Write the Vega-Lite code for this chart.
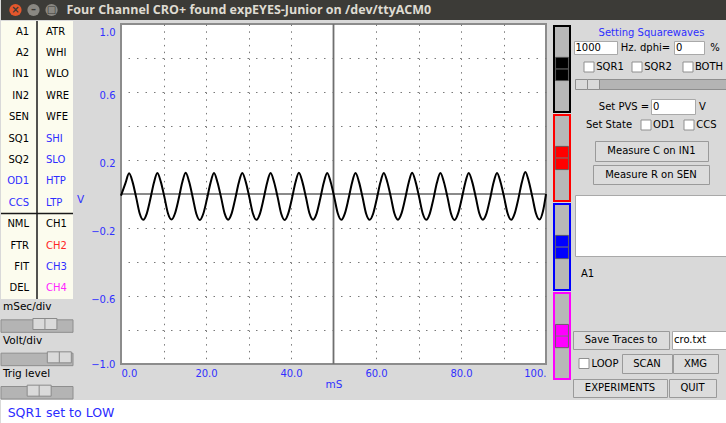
{
  "$schema": "https://vega.github.io/schema/vega-lite/v6.json",
  "padding": 0,
  "background": "#d9d9d9",
  "config": {
    "view": {"stroke": null},
    "concat": {"spacing": 0},
    "text": {"font": "DejaVu Sans", "fontSize": 10, "color": "#000000"},
    "axis": {"labelFont": "DejaVu Sans", "titleFont": "DejaVu Sans"}
  },
  "spacing": 0,
  "vconcat": [
    {
      "spacing": 0, "bounds": "flush",
      "hconcat": [
        {
          "width": 65, "height": 20,
          "view": {"fill": "#3c3b37", "stroke": null},
          "data": {"values": [{"button": "close", "glyph": "×"}, {"button": "minimize", "glyph": "–"}, {"button": "maximize", "glyph": "□"}]},
          "encoding": {"x": {"field": "button", "type": "nominal", "scale": {"type": "point", "domain": ["close", "minimize", "maximize"], "padding": 0.8}, "axis": null}},
          "layer": [
            {"transform": [{"filter": "datum.button === 'close'"}], "mark": {"type": "point", "filled": true, "size": 150, "opacity": 1, "fill": "#e5572c", "strokeWidth": 0}},
            {"transform": [{"filter": "datum.button !== 'close'"}], "mark": {"type": "point", "filled": true, "size": 150, "opacity": 1, "fill": "#8a8882", "strokeWidth": 0}},
            {"mark": {"type": "text", "fontSize": 10, "fontWeight": "bold", "color": "#3c3b37"}, "encoding": {"text": {"field": "glyph"}}}
          ]
        },
        {
          "width": 661, "height": 20,
          "view": {"fill": "#3c3b37", "stroke": null},
          "data": {"values": [{"title": "Four Channel CRO+ found expEYES-Junior on /dev/ttyACM0"}]},
          "mark": {"type": "text", "font": "Open Sans", "fontSize": 12.5, "fontWeight": "bold", "color": "#dfdbd2", "align": "left", "dx": -330},
          "encoding": {"text": {"field": "title"}}
        }
      ]
    },
    {
      "spacing": 0,
      "hconcat": [
        {
          "spacing": 0, "bounds": "flush",
          "vconcat": [
            {
              "width": 72, "height": 278,
              "view": {"fill": "#fcfcee", "stroke": null},
              "data": {"values": [
                {"row": 1, "col": "L", "label": "A1", "kind": "plain"},
                {"row": 2, "col": "L", "label": "A2", "kind": "plain"},
                {"row": 3, "col": "L", "label": "IN1", "kind": "plain"},
                {"row": 4, "col": "L", "label": "IN2", "kind": "plain"},
                {"row": 5, "col": "L", "label": "SEN", "kind": "plain"},
                {"row": 6, "col": "L", "label": "SQ1", "kind": "plain"},
                {"row": 7, "col": "L", "label": "SQ2", "kind": "plain"},
                {"row": 8, "col": "L", "label": "OD1", "kind": "out"},
                {"row": 9, "col": "L", "label": "CCS", "kind": "out"},
                {"row": 10, "col": "L", "label": "NML", "kind": "plain"},
                {"row": 11, "col": "L", "label": "FTR", "kind": "plain"},
                {"row": 12, "col": "L", "label": "FIT", "kind": "plain"},
                {"row": 13, "col": "L", "label": "DEL", "kind": "plain"},
                {"row": 1, "col": "R", "label": "ATR", "kind": "plain"},
                {"row": 2, "col": "R", "label": "WHI", "kind": "plain"},
                {"row": 3, "col": "R", "label": "WLO", "kind": "plain"},
                {"row": 4, "col": "R", "label": "WRE", "kind": "plain"},
                {"row": 5, "col": "R", "label": "WFE", "kind": "plain"},
                {"row": 6, "col": "R", "label": "SHI", "kind": "out"},
                {"row": 7, "col": "R", "label": "SLO", "kind": "out"},
                {"row": 8, "col": "R", "label": "HTP", "kind": "out"},
                {"row": 9, "col": "R", "label": "LTP", "kind": "out"},
                {"row": 10, "col": "R", "label": "CH1", "kind": "plain"},
                {"row": 11, "col": "R", "label": "CH2", "kind": "ch2"},
                {"row": 12, "col": "R", "label": "CH3", "kind": "ch3"},
                {"row": 13, "col": "R", "label": "CH4", "kind": "ch4"}
              ]},
              "layer": [
                {
                  "transform": [{"filter": "datum.col === 'L'"}],
                  "mark": {"type": "text", "align": "right"},
                  "encoding": {
                    "x": {"field": "col", "type": "nominal", "bandPosition": 0.78, "scale": {"domain": ["L", "R"], "paddingInner": 0, "paddingOuter": 0}, "axis": null},
                    "y": {"field": "row", "type": "ordinal", "scale": {"domain": [1,2,3,4,5,6,7,8,9,10,11,12,13], "paddingInner": 0, "paddingOuter": 0}, "axis": null},
                    "text": {"field": "label"},
                    "color": {"field": "kind", "type": "nominal", "scale": {"domain": ["plain", "out", "ch2", "ch3", "ch4"], "range": ["#000000", "#2e2eff", "#ff2626", "#2e2eff", "#ff26ff"]}, "legend": null}
                  }
                },
                {
                  "transform": [{"filter": "datum.col === 'R'"}],
                  "mark": {"type": "text", "align": "left"},
                  "encoding": {
                    "x": {"field": "col", "type": "nominal", "bandPosition": 0.25, "scale": {"domain": ["L", "R"], "paddingInner": 0, "paddingOuter": 0}, "axis": null},
                    "y": {"field": "row", "type": "ordinal", "scale": {"domain": [1,2,3,4,5,6,7,8,9,10,11,12,13], "paddingInner": 0, "paddingOuter": 0}, "axis": null},
                    "text": {"field": "label"},
                    "color": {"field": "kind", "type": "nominal", "scale": {"domain": ["plain", "out", "ch2", "ch3", "ch4"], "range": ["#000000", "#2e2eff", "#ff2626", "#2e2eff", "#ff26ff"]}, "legend": null}
                  }
                },
                {
                  "data": {"values": [{}]},
                  "mark": {"type": "rule", "color": "#1a1a1a", "strokeWidth": 1.5},
                  "encoding": {"x": {"datum": "R", "type": "nominal", "bandPosition": 0}}
                },
                {
                  "data": {"values": [{}]},
                  "mark": {"type": "rule", "color": "#1a1a1a", "strokeWidth": 1.5},
                  "encoding": {"y": {"datum": 10, "type": "ordinal", "bandPosition": 0}}
                }
              ]
            },
            {
              "width": 72, "height": 100,
              "data": {"values": [
                {"slider": "mSec/div", "part": "label"},
                {"slider": "mSec/div", "part": "trough", "value": 0.61},
                {"slider": "Volt/div", "part": "label"},
                {"slider": "Volt/div", "part": "trough", "value": 0.81},
                {"slider": "Trig level", "part": "label"},
                {"slider": "Trig level", "part": "trough", "value": 0.53}
              ]},
              "encoding": {
                "y": {"field": "slider", "type": "nominal", "scale": {"domain": ["mSec/div", "Volt/div", "Trig level"], "paddingInner": 0, "paddingOuter": 0}, "axis": null},
                "yOffset": {"field": "part", "type": "nominal", "scale": {"domain": ["label", "trough"], "paddingInner": 0, "paddingOuter": 0}}
              },
              "layer": [
                {
                  "transform": [{"filter": "datum.part === 'label'"}],
                  "mark": {"type": "text", "align": "left", "dx": 2, "fontSize": 10.5},
                  "encoding": {
                    "x": {"datum": 0, "type": "quantitative", "scale": {"domain": [0, 1]}, "axis": null},
                    "text": {"field": "slider"}
                  }
                },
                {
                  "transform": [{"filter": "datum.part === 'trough'"}],
                  "mark": {"type": "bar", "color": "#b4b4b4", "stroke": "#8e8e8e", "strokeWidth": 1, "height": {"band": 0.75}}
                },
                {
                  "transform": [{"filter": "datum.part === 'trough'"}],
                  "mark": {"type": "tick", "thickness": 24, "size": 11, "color": "#dadada", "stroke": "#8a8a8a", "strokeWidth": 1, "opacity": 1},
                  "encoding": {"x": {"field": "value", "type": "quantitative", "scale": {"domain": [0, 1]}, "axis": null}}
                },
                {
                  "transform": [{"filter": "datum.part === 'trough'"}],
                  "mark": {"type": "tick", "thickness": 1, "size": 11, "color": "#8a8a8a", "opacity": 1},
                  "encoding": {"x": {"field": "value", "type": "quantitative", "scale": {"domain": [0, 1]}, "axis": null}}
                }
              ]
            }
          ]
        },
        {"width": 1, "height": 378, "data": {"values": [{}]}, "mark": {"type": "point", "size": 0, "strokeWidth": 0, "opacity": 0}},
        {
          "spacing": 0, "bounds": "flush",
          "vconcat": [
            {"width": 425, "height": 3, "data": {"values": [{}]}, "mark": {"type": "point", "size": 0, "strokeWidth": 0, "opacity": 0}},
            {
              "width": 425, "height": 340,
              "view": {"fill": "#ffffff", "stroke": "#8c8c8c", "strokeWidth": 2},
              "resolve": {"axis": {"x": "independent", "y": "independent"}},
              "layer": [
                {
                  "data": {"values": [{}]},
                  "mark": {"type": "rule", "color": "#6f6f6f", "strokeWidth": 1.8},
                  "encoding": {"x": {"datum": 50, "type": "quantitative", "scale": {"domain": [0, 100], "nice": false, "zero": false},
                    "axis": {"orient": "top", "values": [10, 20, 30, 40, 60, 70, 80, 90], "grid": true, "gridDash": [1.5, 5.3], "gridColor": "#7a7a7a", "gridWidth": 1, "labels": false, "ticks": false, "domain": false, "title": null}}}
                },
                {
                  "data": {"values": [{}]},
                  "mark": {"type": "rule", "color": "#8a8a8a", "strokeWidth": 1.8},
                  "encoding": {"y": {"datum": 0, "type": "quantitative", "scale": {"domain": [-1, 1], "nice": false, "zero": false},
                    "axis": {"orient": "right", "values": [-0.8, -0.6, -0.4, -0.2, 0.2, 0.4, 0.6, 0.8], "grid": true, "gridDash": [1.5, 7], "gridColor": "#7a7a7a", "gridWidth": 1, "labels": false, "ticks": false, "domain": false, "title": null}}}
                },
                {
                  "data": {"values": [
                    {"t": 0, "v": -0.01}, {"t": 1.07, "v": 0.065}, {"t": 1.9, "v": 0.122}, {"t": 2.73, "v": 0.07},
                    {"t": 3.57, "v": -0.02}, {"t": 4.4, "v": -0.115}, {"t": 5.23, "v": -0.152}, {"t": 6.06, "v": -0.115},
                    {"t": 6.9, "v": -0.03}, {"t": 7.73, "v": 0.065}, {"t": 8.56, "v": 0.124}, {"t": 9.39, "v": 0.07},
                    {"t": 10.23, "v": -0.02}, {"t": 11.06, "v": -0.115}, {"t": 11.89, "v": -0.15}, {"t": 12.72, "v": -0.113},
                    {"t": 13.56, "v": -0.03}, {"t": 14.39, "v": 0.066}, {"t": 15.22, "v": 0.125}, {"t": 16.05, "v": 0.07},
                    {"t": 16.89, "v": -0.022}, {"t": 17.72, "v": -0.116}, {"t": 18.55, "v": -0.153}, {"t": 19.38, "v": -0.115},
                    {"t": 20.22, "v": -0.03}, {"t": 21.05, "v": 0.064}, {"t": 21.88, "v": 0.123}, {"t": 22.71, "v": 0.068},
                    {"t": 23.55, "v": -0.02}, {"t": 24.38, "v": -0.114}, {"t": 25.21, "v": -0.151}, {"t": 26.04, "v": -0.114},
                    {"t": 26.88, "v": -0.028}, {"t": 27.71, "v": 0.066}, {"t": 28.54, "v": 0.124}, {"t": 29.37, "v": 0.07},
                    {"t": 30.21, "v": -0.021}, {"t": 31.04, "v": -0.115}, {"t": 31.87, "v": -0.152}, {"t": 32.7, "v": -0.115},
                    {"t": 33.54, "v": -0.03}, {"t": 34.37, "v": 0.065}, {"t": 35.2, "v": 0.123}, {"t": 36.03, "v": 0.069},
                    {"t": 36.87, "v": -0.02}, {"t": 37.7, "v": -0.116}, {"t": 38.53, "v": -0.153}, {"t": 39.36, "v": -0.114},
                    {"t": 40.2, "v": -0.029}, {"t": 41.03, "v": 0.066}, {"t": 41.86, "v": 0.125}, {"t": 42.69, "v": 0.07},
                    {"t": 43.53, "v": -0.021}, {"t": 44.36, "v": -0.115}, {"t": 45.19, "v": -0.151}, {"t": 46.02, "v": -0.115},
                    {"t": 46.86, "v": -0.03}, {"t": 47.69, "v": 0.065}, {"t": 48.52, "v": 0.124}, {"t": 49.35, "v": 0.069},
                    {"t": 50.19, "v": -0.02}, {"t": 51.02, "v": -0.115}, {"t": 51.85, "v": -0.152}, {"t": 52.68, "v": -0.114},
                    {"t": 53.52, "v": -0.03}, {"t": 54.35, "v": 0.065}, {"t": 55.18, "v": 0.123}, {"t": 56.01, "v": 0.07},
                    {"t": 56.85, "v": -0.021}, {"t": 57.68, "v": -0.116}, {"t": 58.51, "v": -0.152}, {"t": 59.34, "v": -0.115},
                    {"t": 60.18, "v": -0.029}, {"t": 61.01, "v": 0.066}, {"t": 61.84, "v": 0.124}, {"t": 62.67, "v": 0.069},
                    {"t": 63.51, "v": -0.02}, {"t": 64.34, "v": -0.115}, {"t": 65.17, "v": -0.151}, {"t": 66.0, "v": -0.114},
                    {"t": 66.84, "v": -0.03}, {"t": 67.67, "v": 0.065}, {"t": 68.5, "v": 0.125}, {"t": 69.33, "v": 0.07},
                    {"t": 70.17, "v": -0.021}, {"t": 71.0, "v": -0.115}, {"t": 71.83, "v": -0.152}, {"t": 72.66, "v": -0.115},
                    {"t": 73.5, "v": -0.03}, {"t": 74.33, "v": 0.066}, {"t": 75.16, "v": 0.123}, {"t": 75.99, "v": 0.069},
                    {"t": 76.83, "v": -0.02}, {"t": 77.66, "v": -0.116}, {"t": 78.49, "v": -0.153}, {"t": 79.32, "v": -0.114},
                    {"t": 80.16, "v": -0.029}, {"t": 80.99, "v": 0.065}, {"t": 81.82, "v": 0.124}, {"t": 82.65, "v": 0.07},
                    {"t": 83.49, "v": -0.021}, {"t": 84.32, "v": -0.115}, {"t": 85.15, "v": -0.151}, {"t": 85.98, "v": -0.115},
                    {"t": 86.82, "v": -0.03}, {"t": 87.65, "v": 0.066}, {"t": 88.48, "v": 0.124}, {"t": 89.31, "v": 0.069},
                    {"t": 90.15, "v": -0.02}, {"t": 90.98, "v": -0.115}, {"t": 91.81, "v": -0.152}, {"t": 92.64, "v": -0.114},
                    {"t": 93.48, "v": -0.03}, {"t": 94.31, "v": 0.067}, {"t": 95.14, "v": 0.13}, {"t": 95.97, "v": 0.072},
                    {"t": 96.81, "v": -0.02}, {"t": 97.64, "v": -0.115}, {"t": 98.47, "v": -0.15}, {"t": 99.3, "v": -0.1},
                    {"t": 100, "v": 0.0}
                  ]},
                  "mark": {"type": "line", "color": "#000000", "strokeWidth": 2, "interpolate": "monotone"},
                  "encoding": {
                    "x": {"field": "t", "type": "quantitative", "scale": {"domain": [0, 100], "nice": false, "zero": false},
                      "axis": {"orient": "bottom", "values": [0, 20, 40, 60, 80, 100], "labelExpr": "datum.value == 100 ? '100.' : format(datum.value, '.1f')", "grid": false, "ticks": false, "domain": false, "labelFlush": true, "labelColor": "#3030ff", "labelFontSize": 10, "labelPadding": 4, "title": "mS", "titleColor": "#3030ff", "titleFontSize": 10.5, "titleFontWeight": "normal", "titlePadding": 1}},
                    "y": {"field": "v", "type": "quantitative", "scale": {"domain": [-1, 1], "nice": false, "zero": false},
                      "axis": {"orient": "left", "values": [-1, -0.6, -0.2, 0.2, 0.6, 1], "format": ".1f", "grid": false, "ticks": false, "domain": false, "labelColor": "#3030ff", "labelFontSize": 10, "labelPadding": 6, "labelFlush": false,
                        "labelOffset": {"condition": {"test": "datum.value <= -1", "value": 0}, "value": 3},
                        "labelBaseline": {"condition": {"test": "datum.value >= 1", "value": "top"}, "value": "middle"},
                        "title": "V", "titleColor": "#3030ff", "titleFontSize": 10.5, "titleFontWeight": "normal", "titleAngle": 0, "titleX": -41, "titleY": 175, "titleAlign": "center", "titleBaseline": "middle"}}
                  }
                }
              ]
            },
            {"width": 425, "height": 35, "data": {"values": [{}]}, "mark": {"type": "point", "size": 0, "strokeWidth": 0, "opacity": 0}}
          ]
        },
        {"width": 2, "height": 378, "data": {"values": [{}]}, "mark": {"type": "point", "size": 0, "strokeWidth": 0, "opacity": 0}},
        {
          "spacing": 0, "bounds": "flush",
          "vconcat": [
            {"width": 16, "height": 5, "data": {"values": [{}]}, "mark": {"type": "point", "size": 0, "strokeWidth": 0, "opacity": 0}},
            {
              "width": 16, "height": 353,
              "data": {"values": [{"ch": "CH1"}, {"ch": "CH2"}, {"ch": "CH3"}, {"ch": "CH4"}]},
              "layer": [
                {
                  "mark": {"type": "bar", "fill": "#b8b8b8", "strokeWidth": 2},
                  "encoding": {
                    "y": {"field": "ch", "type": "nominal", "scale": {"domain": ["CH1", "CH2", "CH3", "CH4"], "paddingInner": 0.035, "paddingOuter": 0}, "axis": null},
                    "stroke": {"field": "ch", "type": "nominal", "scale": {"domain": ["CH1", "CH2", "CH3", "CH4"], "range": ["#000000", "#ff0000", "#0000ff", "#ff00ff"]}, "legend": null}
                  }
                },
                {
                  "mark": {"type": "rect", "height": {"band": 0.27}, "stroke": "#555555", "strokeWidth": 0.8},
                  "encoding": {
                    "y": {"field": "ch", "type": "nominal", "scale": {"domain": ["CH1", "CH2", "CH3", "CH4"], "paddingInner": 0.035, "paddingOuter": 0}, "axis": null},
                    "x": {"datum": "knob", "type": "nominal", "scale": {"domain": ["knob"], "paddingInner": 0, "paddingOuter": 0.12}, "axis": null},
                    "fill": {"field": "ch", "type": "nominal", "scale": {"domain": ["CH1", "CH2", "CH3", "CH4"], "range": ["#000000", "#ff0000", "#0000ff", "#ff00ff"]}, "legend": null}
                  }
                },
                {
                  "mark": {"type": "tick", "orient": "horizontal", "size": 12, "thickness": 1, "color": "#777777", "opacity": 1},
                  "encoding": {
                    "y": {"field": "ch", "type": "nominal", "scale": {"domain": ["CH1", "CH2", "CH3", "CH4"], "paddingInner": 0.035, "paddingOuter": 0}, "axis": null}
                  }
                }
              ]
            },
            {"width": 16, "height": 20, "data": {"values": [{}]}, "mark": {"type": "point", "size": 0, "strokeWidth": 0, "opacity": 0}}
          ]
        },
        {
          "spacing": 0,
          "vconcat": [
            {"width": 155, "height": 5, "data": {"values": [{}]}, "mark": {"type": "point", "size": 0, "strokeWidth": 0, "opacity": 0}},
            {"spacing": 0, "bounds": "flush", "hconcat": [
              {"width": 26, "height": 13, "data": {"values": [{}]}, "mark": {"type": "point", "size": 0, "strokeWidth": 0, "opacity": 0}},
              {"width": 109, "height": 13, "data": {"values": [{"t": "Setting Squarewaves"}]}, "mark": {"type": "text", "color": "#2e2eff"}, "encoding": {"text": {"field": "t"}}}
            ]},
            {"width": 155, "height": 1, "data": {"values": [{}]}, "mark": {"type": "point", "size": 0, "strokeWidth": 0, "opacity": 0}},
            {"spacing": 0, "bounds": "flush", "hconcat": [
              {"width": 3, "height": 13, "data": {"values": [{}]}, "mark": {"type": "point", "size": 0, "strokeWidth": 0, "opacity": 0}},
              {"width": 43, "height": 13, "view": {"fill": "#ffffff", "stroke": "#a9a9a9"}, "data": {"values": [{"t": "1000"}]}, "mark": {"type": "text", "align": "left", "dx": -20}, "encoding": {"text": {"field": "t"}}},
              {"width": 57, "height": 13, "data": {"values": [{"t": "Hz. dphi="}]}, "mark": {"type": "text"}, "encoding": {"text": {"field": "t"}}},
              {"width": 30, "height": 13, "view": {"fill": "#ffffff", "stroke": "#a9a9a9"}, "data": {"values": [{"t": "0"}]}, "mark": {"type": "text", "align": "left", "dx": -13}, "encoding": {"text": {"field": "t"}}},
              {"width": 22, "height": 13, "data": {"values": [{"t": "%"}]}, "mark": {"type": "text"}, "encoding": {"text": {"field": "t"}}}
            ]},
            {"width": 155, "height": 5, "data": {"values": [{}]}, "mark": {"type": "point", "size": 0, "strokeWidth": 0, "opacity": 0}},
            {"spacing": 0, "bounds": "flush", "hconcat": [
              {"width": 13, "height": 14, "data": {"values": [{}]}, "mark": {"type": "point", "size": 0, "strokeWidth": 0, "opacity": 0}},
              {"width": 10, "height": 14, "data": {"values": [{}]}, "mark": {"type": "point", "shape": "square", "size": 100, "filled": true, "fill": "#ffffff", "stroke": "#8f8f8f", "strokeWidth": 1, "opacity": 1}},
              {"width": 2, "height": 14, "data": {"values": [{}]}, "mark": {"type": "point", "size": 0, "strokeWidth": 0, "opacity": 0}},
              {"width": 28, "height": 14, "data": {"values": [{"t": "SQR1"}]}, "mark": {"type": "text"}, "encoding": {"text": {"field": "t"}}},
              {"width": 8, "height": 14, "data": {"values": [{}]}, "mark": {"type": "point", "size": 0, "strokeWidth": 0, "opacity": 0}},
              {"width": 10, "height": 14, "data": {"values": [{}]}, "mark": {"type": "point", "shape": "square", "size": 100, "filled": true, "fill": "#ffffff", "stroke": "#8f8f8f", "strokeWidth": 1, "opacity": 1}},
              {"width": 2, "height": 14, "data": {"values": [{}]}, "mark": {"type": "point", "size": 0, "strokeWidth": 0, "opacity": 0}},
              {"width": 28, "height": 14, "data": {"values": [{"t": "SQR2"}]}, "mark": {"type": "text"}, "encoding": {"text": {"field": "t"}}},
              {"width": 11, "height": 14, "data": {"values": [{}]}, "mark": {"type": "point", "size": 0, "strokeWidth": 0, "opacity": 0}},
              {"width": 10, "height": 14, "data": {"values": [{}]}, "mark": {"type": "point", "shape": "square", "size": 100, "filled": true, "fill": "#ffffff", "stroke": "#8f8f8f", "strokeWidth": 1, "opacity": 1}},
              {"width": 2, "height": 14, "data": {"values": [{}]}, "mark": {"type": "point", "size": 0, "strokeWidth": 0, "opacity": 0}},
              {"width": 28, "height": 14, "data": {"values": [{"t": "BOTH"}]}, "mark": {"type": "text"}, "encoding": {"text": {"field": "t"}}}
            ]},
            {"width": 155, "height": 4, "data": {"values": [{}]}, "mark": {"type": "point", "size": 0, "strokeWidth": 0, "opacity": 0}},
            {"spacing": 0, "bounds": "flush", "hconcat": [
              {"width": 4, "height": 10, "data": {"values": [{}]}, "mark": {"type": "point", "size": 0, "strokeWidth": 0, "opacity": 0}},
              {"width": 12, "height": 10, "view": {"fill": "#dadada", "stroke": "#8e8e8e"}, "data": {"values": [{}]}, "mark": {"type": "point", "size": 0, "strokeWidth": 0, "opacity": 0}},
              {"width": 12, "height": 10, "view": {"fill": "#dadada", "stroke": "#8e8e8e"}, "data": {"values": [{}]}, "mark": {"type": "point", "size": 0, "strokeWidth": 0, "opacity": 0}},
              {"width": 127, "height": 10, "view": {"fill": "#b4b4b4", "stroke": "#8e8e8e"}, "data": {"values": [{}]}, "mark": {"type": "point", "size": 0, "strokeWidth": 0, "opacity": 0}}
            ]},
            {"width": 155, "height": 8, "data": {"values": [{}]}, "mark": {"type": "point", "size": 0, "strokeWidth": 0, "opacity": 0}},
            {"spacing": 0, "bounds": "flush", "hconcat": [
              {"width": 26, "height": 15, "data": {"values": [{}]}, "mark": {"type": "point", "size": 0, "strokeWidth": 0, "opacity": 0}},
              {"width": 54, "height": 15, "data": {"values": [{"t": "Set PVS ="}]}, "mark": {"type": "text"}, "encoding": {"text": {"field": "t"}}},
              {"width": 44, "height": 15, "view": {"fill": "#ffffff", "stroke": "#a9a9a9"}, "data": {"values": [{"t": "0"}]}, "mark": {"type": "text", "align": "left", "dx": -20}, "encoding": {"text": {"field": "t"}}},
              {"width": 15, "height": 15, "data": {"values": [{"t": "V"}]}, "mark": {"type": "text"}, "encoding": {"text": {"field": "t"}}}
            ]},
            {"width": 155, "height": 3, "data": {"values": [{}]}, "mark": {"type": "point", "size": 0, "strokeWidth": 0, "opacity": 0}},
            {"spacing": 0, "bounds": "flush", "hconcat": [
              {"width": 14, "height": 14, "data": {"values": [{}]}, "mark": {"type": "point", "size": 0, "strokeWidth": 0, "opacity": 0}},
              {"width": 48, "height": 14, "data": {"values": [{"t": "Set State"}]}, "mark": {"type": "text"}, "encoding": {"text": {"field": "t"}}},
              {"width": 8, "height": 14, "data": {"values": [{}]}, "mark": {"type": "point", "size": 0, "strokeWidth": 0, "opacity": 0}},
              {"width": 10, "height": 14, "data": {"values": [{}]}, "mark": {"type": "point", "shape": "square", "size": 100, "filled": true, "fill": "#ffffff", "stroke": "#8f8f8f", "strokeWidth": 1, "opacity": 1}},
              {"width": 2, "height": 14, "data": {"values": [{}]}, "mark": {"type": "point", "size": 0, "strokeWidth": 0, "opacity": 0}},
              {"width": 22, "height": 14, "data": {"values": [{"t": "OD1"}]}, "mark": {"type": "text"}, "encoding": {"text": {"field": "t"}}},
              {"width": 9, "height": 14, "data": {"values": [{}]}, "mark": {"type": "point", "size": 0, "strokeWidth": 0, "opacity": 0}},
              {"width": 10, "height": 14, "data": {"values": [{}]}, "mark": {"type": "point", "shape": "square", "size": 100, "filled": true, "fill": "#ffffff", "stroke": "#8f8f8f", "strokeWidth": 1, "opacity": 1}},
              {"width": 2, "height": 14, "data": {"values": [{}]}, "mark": {"type": "point", "size": 0, "strokeWidth": 0, "opacity": 0}},
              {"width": 21, "height": 14, "data": {"values": [{"t": "CCS"}]}, "mark": {"type": "text"}, "encoding": {"text": {"field": "t"}}}
            ]},
            {"width": 155, "height": 8, "data": {"values": [{}]}, "mark": {"type": "point", "size": 0, "strokeWidth": 0, "opacity": 0}},
            {"spacing": 0, "bounds": "flush", "hconcat": [
              {"width": 24, "height": 20, "data": {"values": [{}]}, "mark": {"type": "point", "size": 0, "strokeWidth": 0, "opacity": 0}},
              {"width": 113, "height": 20, "view": {"fill": "#dcdcdc", "stroke": "#9a9a9a"}, "data": {"values": [{"t": "Measure C on IN1"}]}, "mark": {"type": "text"}, "encoding": {"text": {"field": "t"}}}
            ]},
            {"width": 155, "height": 2, "data": {"values": [{}]}, "mark": {"type": "point", "size": 0, "strokeWidth": 0, "opacity": 0}},
            {"spacing": 0, "bounds": "flush", "hconcat": [
              {"width": 22, "height": 19, "data": {"values": [{}]}, "mark": {"type": "point", "size": 0, "strokeWidth": 0, "opacity": 0}},
              {"width": 116, "height": 19, "view": {"fill": "#dcdcdc", "stroke": "#9a9a9a"}, "data": {"values": [{"t": "Measure R on SEN"}]}, "mark": {"type": "text"}, "encoding": {"text": {"field": "t"}}}
            ]},
            {"width": 155, "height": 9, "data": {"values": [{}]}, "mark": {"type": "point", "size": 0, "strokeWidth": 0, "opacity": 0}},
            {"spacing": 0, "bounds": "flush", "hconcat": [
              {"width": 4, "height": 61, "data": {"values": [{}]}, "mark": {"type": "point", "size": 0, "strokeWidth": 0, "opacity": 0}},
              {"width": 151, "height": 61, "view": {"fill": "#ffffff", "stroke": "#a9a9a9"}, "data": {"values": [{}]}, "mark": {"type": "point", "size": 0, "strokeWidth": 0, "opacity": 0}}
            ]},
            {"width": 155, "height": 10, "data": {"values": [{}]}, "mark": {"type": "point", "size": 0, "strokeWidth": 0, "opacity": 0}},
            {"spacing": 0, "bounds": "flush", "hconcat": [
              {"width": 10, "height": 14, "data": {"values": [{}]}, "mark": {"type": "point", "size": 0, "strokeWidth": 0, "opacity": 0}},
              {"width": 13, "height": 14, "data": {"values": [{"t": "A1"}]}, "mark": {"type": "text"}, "encoding": {"text": {"field": "t"}}}
            ]},
            {"width": 155, "height": 49, "data": {"values": [{}]}, "mark": {"type": "point", "size": 0, "strokeWidth": 0, "opacity": 0}},
            {"spacing": 0, "bounds": "flush", "hconcat": [
              {"width": 2, "height": 18, "data": {"values": [{}]}, "mark": {"type": "point", "size": 0, "strokeWidth": 0, "opacity": 0}},
              {"width": 96, "height": 18, "view": {"fill": "#dcdcdc", "stroke": "#9a9a9a"}, "data": {"values": [{"t": "Save Traces to"}]}, "mark": {"type": "text"}, "encoding": {"text": {"field": "t"}}},
              {"width": 3, "height": 18, "data": {"values": [{}]}, "mark": {"type": "point", "size": 0, "strokeWidth": 0, "opacity": 0}},
              {"width": 54, "height": 18, "view": {"fill": "#ffffff", "stroke": "#a9a9a9"}, "data": {"values": [{"t": "cro.txt"}]}, "mark": {"type": "text", "align": "left", "dx": -25}, "encoding": {"text": {"field": "t"}}}
            ]},
            {"width": 155, "height": 3, "data": {"values": [{}]}, "mark": {"type": "point", "size": 0, "strokeWidth": 0, "opacity": 0}},
            {"spacing": 0, "bounds": "flush", "hconcat": [
              {"width": 8, "height": 19, "data": {"values": [{}]}, "mark": {"type": "point", "size": 0, "strokeWidth": 0, "opacity": 0}},
              {"width": 10, "height": 19, "data": {"values": [{}]}, "mark": {"type": "point", "shape": "square", "size": 100, "filled": true, "fill": "#ffffff", "stroke": "#8f8f8f", "strokeWidth": 1, "opacity": 1}},
              {"width": 1, "height": 19, "data": {"values": [{}]}, "mark": {"type": "point", "size": 0, "strokeWidth": 0, "opacity": 0}},
              {"width": 30, "height": 19, "data": {"values": [{"t": "LOOP"}]}, "mark": {"type": "text"}, "encoding": {"text": {"field": "t"}}},
              {"width": 2, "height": 19, "data": {"values": [{}]}, "mark": {"type": "point", "size": 0, "strokeWidth": 0, "opacity": 0}},
              {"width": 50, "height": 19, "view": {"fill": "#dcdcdc", "stroke": "#9a9a9a"}, "data": {"values": [{"t": "SCAN"}]}, "mark": {"type": "text"}, "encoding": {"text": {"field": "t"}}},
              {"width": 1, "height": 19, "data": {"values": [{}]}, "mark": {"type": "point", "size": 0, "strokeWidth": 0, "opacity": 0}},
              {"width": 45, "height": 19, "view": {"fill": "#dcdcdc", "stroke": "#9a9a9a"}, "data": {"values": [{"t": "XMG"}]}, "mark": {"type": "text"}, "encoding": {"text": {"field": "t"}}}
            ]},
            {"width": 155, "height": 4, "data": {"values": [{}]}, "mark": {"type": "point", "size": 0, "strokeWidth": 0, "opacity": 0}},
            {"spacing": 0, "bounds": "flush", "hconcat": [
              {"width": 2, "height": 18, "data": {"values": [{}]}, "mark": {"type": "point", "size": 0, "strokeWidth": 0, "opacity": 0}},
              {"width": 94, "height": 18, "view": {"fill": "#dcdcdc", "stroke": "#9a9a9a"}, "data": {"values": [{"t": "EXPERIMENTS"}]}, "mark": {"type": "text"}, "encoding": {"text": {"field": "t"}}},
              {"width": 2, "height": 18, "data": {"values": [{}]}, "mark": {"type": "point", "size": 0, "strokeWidth": 0, "opacity": 0}},
              {"width": 47, "height": 18, "view": {"fill": "#dcdcdc", "stroke": "#9a9a9a"}, "data": {"values": [{"t": "QUIT"}]}, "mark": {"type": "text"}, "encoding": {"text": {"field": "t"}}}
            ]},
            {"width": 155, "height": 1, "data": {"values": [{}]}, "mark": {"type": "point", "size": 0, "strokeWidth": 0, "opacity": 0}}
          ]
        }
      ]
    },
    {
      "spacing": 0, "bounds": "flush",
      "hconcat": [
        {"width": 5, "height": 25, "view": {"fill": "#ffffff", "stroke": null}, "data": {"values": [{}]}, "mark": {"type": "point", "size": 0, "strokeWidth": 0, "opacity": 0}},
        {"width": 110, "height": 25, "view": {"fill": "#ffffff", "stroke": null}, "data": {"values": [{"t": "SQR1 set to LOW"}]}, "mark": {"type": "text", "fontSize": 12.5, "color": "#2b2bff"}, "encoding": {"text": {"field": "t"}}},
        {"width": 611, "height": 25, "view": {"fill": "#ffffff", "stroke": null}, "data": {"values": [{}]}, "mark": {"type": "point", "size": 0, "strokeWidth": 0, "opacity": 0}}
      ]
    }
  ]
}
